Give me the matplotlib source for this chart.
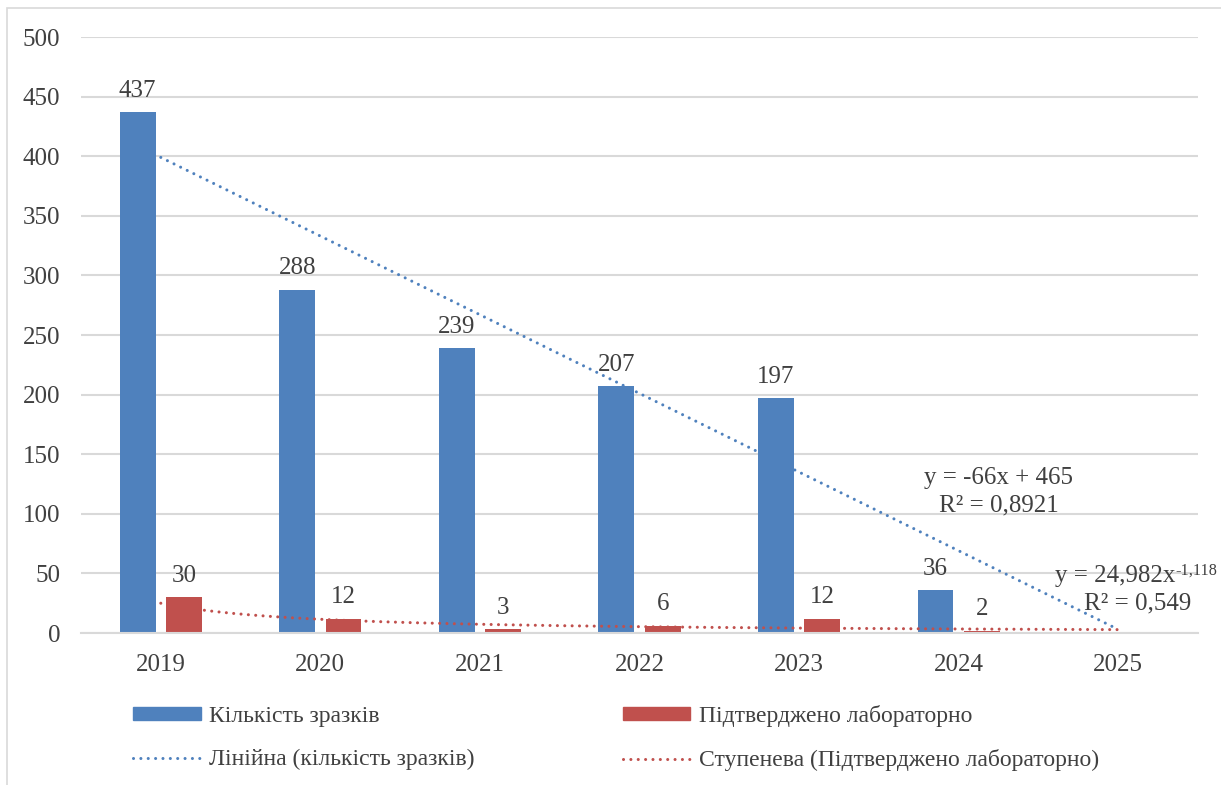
import numpy as np
import matplotlib
matplotlib.use("Agg")
import matplotlib.pyplot as plt
from matplotlib.patches import Patch, Rectangle
from matplotlib.lines import Line2D
from matplotlib.transforms import offset_copy

plt.rcParams['font.family'] = ['Liberation Serif', 'DejaVu Serif']

years = ['2019', '2020', '2021', '2022', '2023', '2024', '2025']
samples = [437, 288, 239, 207, 197, 36]
confirmed = [30, 12, 3, 6, 12, 2]

# trendline coefficients (x = 1..7)
lin_slope, lin_intercept = -66, 465
pow_a, pow_b = 24.982, -1.118

label_samples = 'Кількість зразків'
label_confirmed = 'Підтверджено лабораторно'
label_lin = 'Лінійна (кількість зразків)'
label_pow = 'Ступенева (Підтверджено лабораторно)'

BLUE = '#4F81BD'
RED = '#C0504D'
TXT = '#404040'
GRID = '#D9D9D9'
FS = 18

W, H = 1221, 785
fig = plt.figure(figsize=(W / 100, H / 100), dpi=100)
ax = fig.add_axes([81 / W, 1 - 633 / H, (1198 - 81) / W, (633 - 37) / H])

fig.patches.append(Rectangle((7 / W, -0.01), 1.02, 1 - 8 / H + 0.01,
                             transform=fig.transFigure, fill=False,
                             edgecolor=GRID, linewidth=1.2))

x = np.arange(len(samples))
bw = 0.225
off = 0.145
b1 = ax.bar(x - off, samples, width=bw, color=BLUE, zorder=2)
b2 = ax.bar(x + off, confirmed, width=bw, color=RED, zorder=2)

for rect, v in list(zip(b1, samples)) + list(zip(b2, confirmed)):
    ax.annotate(str(v), (rect.get_x() + rect.get_width() / 2, v),
                xytext=(0, 7.5), textcoords='offset points',
                ha='center', va='bottom', fontsize=FS, color=TXT)

dot = (0, (0.01, 2.4))
xt = np.linspace(1, 7, 300)
ax.plot(xt - 1, lin_slope * xt + lin_intercept, color=BLUE, lw=2.2,
        linestyle=dot, dash_capstyle='round', zorder=3)
ax.plot(xt - 1, pow_a * xt ** pow_b, color=RED, lw=2.2,
        linestyle=dot, dash_capstyle='round', zorder=3)

# trendline equations
ax.text(5.25, 130, 'y = -66x + 465', ha='center', va='center',
        fontsize=FS, color=TXT)
ax.text(5.25, 107, 'R² = 0,8921', ha='center', va='center',
        fontsize=FS, color=TXT)
ax.text(6.36, 48, 'y = 24,982x', ha='right', va='center',
        fontsize=FS, color=TXT)
ax.text(6.36, 48, '-1,118', ha='left', va='bottom', fontsize=FS * 0.65,
        color=TXT, transform=offset_copy(ax.transData, fig=fig, x=0, y=-2, units='points'))
ax.text(6.12, 25, 'R² = 0,549', ha='center', va='center',
        fontsize=FS, color=TXT)

ax.set_xlim(-0.5, 6.5)
ax.set_ylim(0, 500)
ax.set_yticks(range(0, 501, 50))
ax.set_xticks(np.arange(len(years)))
ax.set_xticklabels(years)
ax.tick_params(length=0, labelsize=FS, colors=TXT)
ax.tick_params(axis='y', pad=15)
ax.tick_params(axis='x', pad=15)
ax.grid(axis='y', color=GRID, lw=1.5, zorder=0)
ax.set_axisbelow(True)
for s in ['top', 'right', 'left']:
    ax.spines[s].set_visible(False)
ax.spines['bottom'].set_color(GRID)
ax.spines['bottom'].set_linewidth(1.5)

handles = [Patch(color=BLUE), Line2D([], [], color=BLUE, lw=2.2, linestyle=dot, dash_capstyle='round'),
           Patch(color=RED), Line2D([], [], color=RED, lw=2.2, linestyle=dot, dash_capstyle='round')]
labels = [label_samples, label_lin, label_confirmed, label_pow]
fig.legend(handles, labels, ncol=2, loc='center left',
           bbox_to_anchor=(112 / W, 1 - 738 / H), frameon=False,
           fontsize=17, labelcolor=TXT, handlelength=2.85, handleheight=0.5,
           handletextpad=0.35, labelspacing=0.95, columnspacing=6.3)

fig.savefig('out.png', dpi=100, facecolor='white')
